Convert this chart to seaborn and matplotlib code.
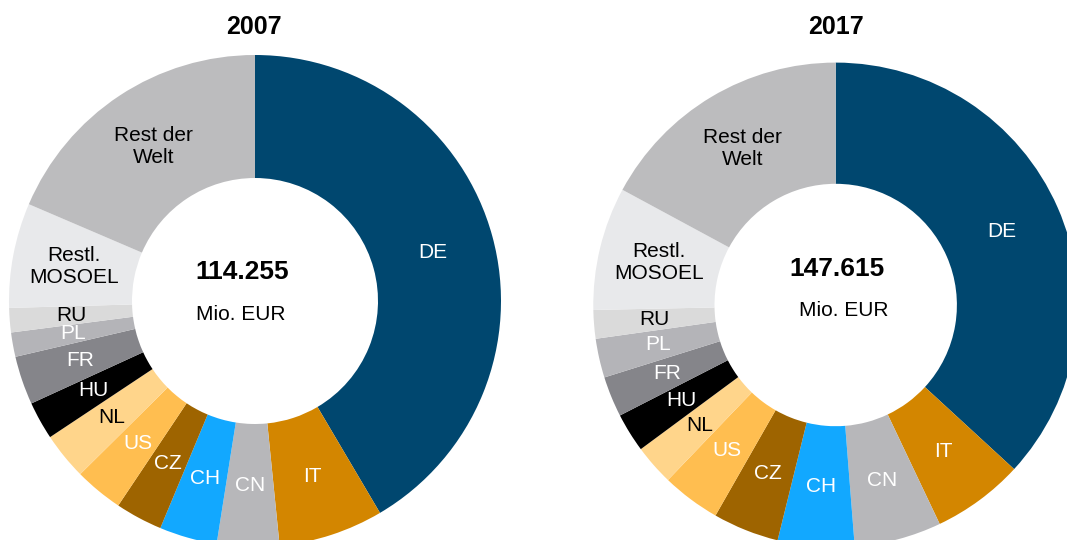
import matplotlib
matplotlib.use('Agg')
import matplotlib.pyplot as plt
import seaborn as sns

# ---- data (shares in % of total exports) ----
categories = ['DE', 'IT', 'CN', 'CH', 'CZ', 'US', 'NL', 'HU', 'FR', 'PL', 'RU',
              'Restl.\nMOSOEL', 'Rest der\nWelt']
shares_2007 = [41.6, 6.9, 4.1, 3.8, 3.1, 3.2, 3.1, 2.5, 3.2, 1.6, 1.6, 6.9, 18.6]
shares_2017 = [36.8, 6.1, 5.8, 5.1, 4.4, 3.9, 2.7, 2.6, 2.7, 2.6, 1.9, 8.2, 17.1]
years = ['2007', '2017']
totals = ['114.255', '147.615']
unit = 'Mio. EUR'

colors = ['#00476F', '#D38600', '#B7B7BA', '#12A8FF', '#9E6400', '#FFBE50',
          '#FFD58B', '#000000', '#85858A', '#B4B4B8', '#DADADA', '#E8E9EB', '#BCBCBE']
label_colors = ['white', 'white', 'white', 'white', 'white', 'white', 'black',
                'white', 'white', 'white', 'black', 'black', 'black']

sns.set_theme(style='white')
plt.rcParams['font.family'] = ['Liberation Sans', 'DejaVu Sans']

W, H = 1067, 540
fig = plt.figure(figsize=(W / 100, H / 100), dpi=100)
ax = fig.add_axes([0, 0, 1, 1])

layout = [
    dict(cx=255, cy=301, r=246, num=(241.7, 272.3), unit=(241, 315), title=(254, 27)),
    dict(cx=835.7, cy=305, r=242.4, num=(836.7, 269.3), unit=(843.3, 310), title=(836, 27)),
]

for year, total, shares, sp in zip(years, totals, [shares_2007, shares_2017], layout):
    wedges, texts = ax.pie(
        shares, labels=categories, colors=colors, startangle=90, counterclock=False,
        center=(sp['cx'], H - sp['cy']), radius=sp['r'], labeldistance=0.75,
        wedgeprops=dict(width=0.5 * sp['r'], linewidth=0),
        textprops=dict(fontsize=15))
    for t, c in zip(texts, label_colors):
        t.set_ha('center')
        t.set_va('center')
        t.set_color(c)
        t.set_linespacing(1.2)
        t.set_multialignment('center')
    ax.text(sp['num'][0], H - sp['num'][1], total, fontsize=19, fontweight='bold',
            ha='center', va='center', color='black')
    ax.text(sp['unit'][0], H - sp['unit'][1], unit, fontsize=15,
            ha='center', va='center', color='black')
    ax.text(sp['title'][0], H - sp['title'][1], year, fontsize=18, fontweight='bold',
            ha='center', va='center', color='black')

ax.set_xlim(0, W)
ax.set_ylim(0, H)
ax.set_aspect('auto')
ax.axis('off')
fig.savefig('out.png', dpi=100, facecolor='white')
